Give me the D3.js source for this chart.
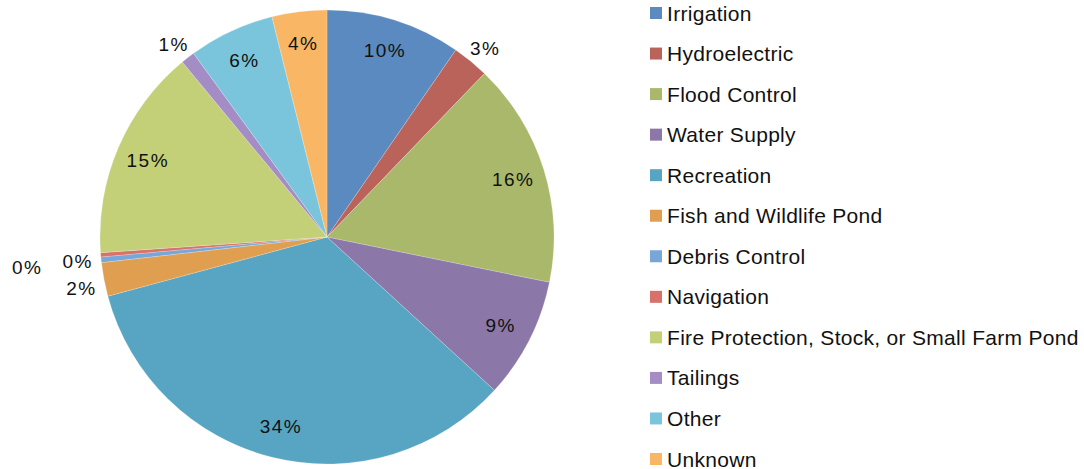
<!DOCTYPE html>
<html>
<head>
<meta charset="utf-8">
<script src="https://cdn.jsdelivr.net/npm/d3@7"></script>
<style>
  body { margin: 0; background: #fff; }
  text { font-family: "Liberation Sans", Arial, sans-serif; fill: #111; }
</style>
</head>
<body>
<script>
/* Data */
var categories = ["Irrigation", "Hydroelectric", "Flood Control", "Water Supply", "Recreation",
  "Fish and Wildlife Pond", "Debris Control", "Navigation",
  "Fire Protection, Stock, or Small Farm Pond", "Tailings", "Other", "Unknown"];
var shares = [9.6, 2.6, 16.0, 8.6, 34.0, 2.4, 0.4, 0.3, 15.1, 1.0, 6.1, 3.9];
var colors = ["#5a8abf", "#b9635b", "#a9b86b", "#8c78a8", "#57a5c2", "#e09f50",
  "#77a7d8", "#d9716b", "#c3d078", "#a48cc4", "#7ac5db", "#f9b766"];

var data = categories.map(function(c, i) {
  return {name: c, value: shares[i], color: colors[i]};
});

/* CREATE CHART */
var width = 1084, height = 469;
var cx = 327, cy = 237, radius = 227;

var svg = d3.select("body").append("svg")
    .attr("width", width)
    .attr("height", height);

var pie = d3.pie()
    .sort(null)
    .value(function(d) { return d.value; });

var arc = d3.arc().innerRadius(0).outerRadius(radius);
var arcs = pie(data);

var g = svg.append("g").attr("transform", "translate(" + cx + "," + cy + ")");

g.selectAll("path")
    .data(arcs)
    .enter()
    .append("path")
    .attr("d", arc)
    .attr("fill", function(d) { return d.data.color; })
    .attr("stroke", "#fff")
    .attr("stroke-opacity", 0.4)
    .attr("stroke-width", 0.5);

// labels: inside for bigger slices, outside for small ones
var inArc = d3.arc().innerRadius(195).outerRadius(195);
var outArc = d3.arc().innerRadius(250).outerRadius(250);
var fmt = function(v) { return Math.round(v) + "%"; };

var lastOut = null, lastLabel = null;
arcs.forEach(function(d) {
  var inside = d.data.value >= 3;
  var p = inside ? inArc.centroid(d) : outArc.centroid(d);
  if (!inside) p = [p[0], p[1] + 5];
  var label = g.append("text")
    .attr("x", p[0])
    .attr("y", p[1])
    .attr("dy", "0.35em")
    .attr("text-anchor", "middle")
    .style("font-size", "19px")
    .style("letter-spacing", "1.5px")
    .text(fmt(d.data.value));
  if (!inside) {
    if (lastOut && Math.abs(p[1] - lastOut[1]) < 16) {
      // overlapping outside labels: push the earlier one further out
      lastLabel.attr("x", lastOut[0] - 51);
    }
    lastOut = p;
    lastLabel = label;
  }
});

/* Legend */
var legend = svg.append("g");
var rowY = d3.scalePoint().domain(categories).range([13, 459]);

var item = legend.selectAll(".item")
    .data(data)
    .enter()
    .append("g")
    .attr("class", "item")
    .attr("transform", function(d) { return "translate(650," + rowY(d.name) + ")"; });

item.append("rect")
    .attr("x", 0)
    .attr("y", -6)
    .attr("width", 12)
    .attr("height", 12)
    .attr("fill", function(d) { return d.color; });

item.append("text")
    .attr("x", 17)
    .attr("y", 0)
    .attr("dy", "0.36em")
    .style("font-size", "21px")
    .style("letter-spacing", "0.3px")
    .text(function(d) { return d.name; });
</script>
</body>
</html>
